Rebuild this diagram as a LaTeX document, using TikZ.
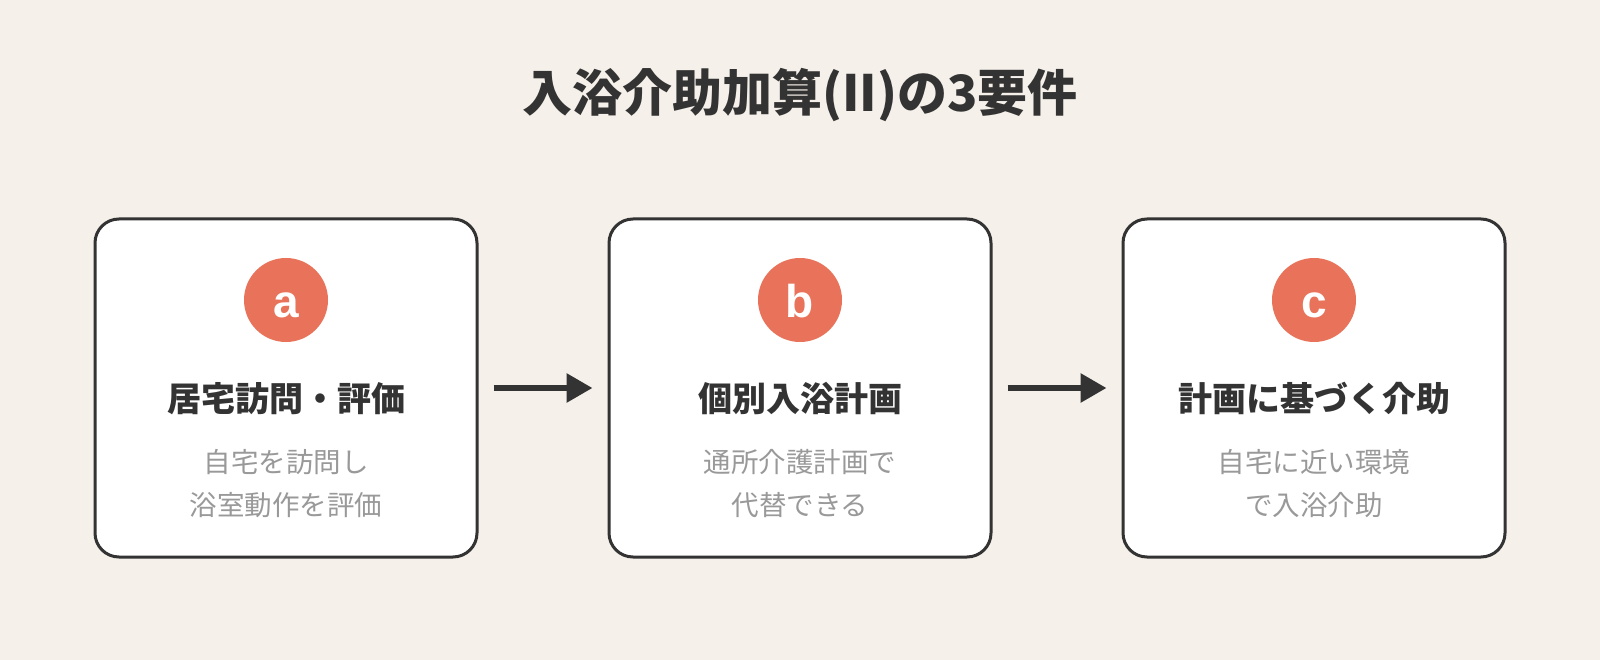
\documentclass[tikz,border=0pt]{standalone}
\usepackage{fontspec}
\setmainfont{Noto Sans CJK JP}
\newfontfamily\latinsans{Liberation Sans}
\usetikzlibrary{arrows.meta}
\definecolor{bgc}{HTML}{F5F0EA}
\definecolor{ink}{HTML}{333333}
\definecolor{accent}{HTML}{E8735A}
\definecolor{subgray}{HTML}{999999}
\tikzset{
  card/.style={draw=ink, line width=3pt, fill=white, rounded corners=24pt,
    minimum width=382pt, minimum height=338pt, inner sep=0pt},
  badge/.style={circle, fill=accent, minimum size=84pt, inner sep=0pt},
  badgeletter/.style={anchor=base, inner sep=0pt, text=white,
    font=\latinsans\bfseries\fontsize{46}{46}\selectfont},
  cardtitle/.style={anchor=base, text=ink, inner sep=0pt,
    font=\bfseries\fontsize{34}{34}\selectfont},
  cardsub/.style={anchor=base, text=subgray, inner sep=0pt,
    font=\fontsize{27.5}{27.5}\selectfont},
  flow/.style={draw=ink, line width=6pt, -{Triangle[length=26pt,width=28pt]},
    shorten <=15pt, shorten >=15pt}
}
\begin{document}
\begin{tikzpicture}[x=1pt,y=-1pt]
\fill[bgc] (0,0) rectangle (1600,660);
\useasboundingbox (0,0) rectangle (1600,660);
\node[anchor=base, text=ink, inner sep=0pt, font=\bfseries\fontsize{50}{50}\selectfont] (title) at (800,112) {入浴介助加算(II)の3要件};

\node[card] (A) at (286,388) {};
\node[card] (B) at (800,388) {};
\node[card] (C) at (1314,388) {};

\node[badge] (ba) at (286,300) {};
\node[badge] (bb) at (800,300) {};
\node[badge] (bc) at (1314,300) {};
\node[badgeletter] (la) at (286,317) {a};
\node[badgeletter] (lb) at (800,317) {b};
\node[badgeletter] (lc) at (1314,317) {c};

\node[cardtitle] (ta) at (286,411) {居宅訪問・評価};
\node[cardtitle] (tb) at (800,411) {個別入浴計画};
\node[cardtitle] (tc) at (1314,411) {計画に基づく介助};

\node[cardsub] (sa1) at (286,472) {自宅を訪問し};
\node[cardsub] (sa2) at (286,515) {浴室動作を評価};
\node[cardsub] (sb1) at (800,472) {通所介護計画で};
\node[cardsub] (sb2) at (800,515) {代替できる};
\node[cardsub] (sc1) at (1314,472) {自宅に近い環境};
\node[cardsub] (sc2) at (1314,515) {で入浴介助};

\draw[flow] (A.east) -- (B.west);
\draw[flow] (B.east) -- (C.west);
\end{tikzpicture}
\end{document}
